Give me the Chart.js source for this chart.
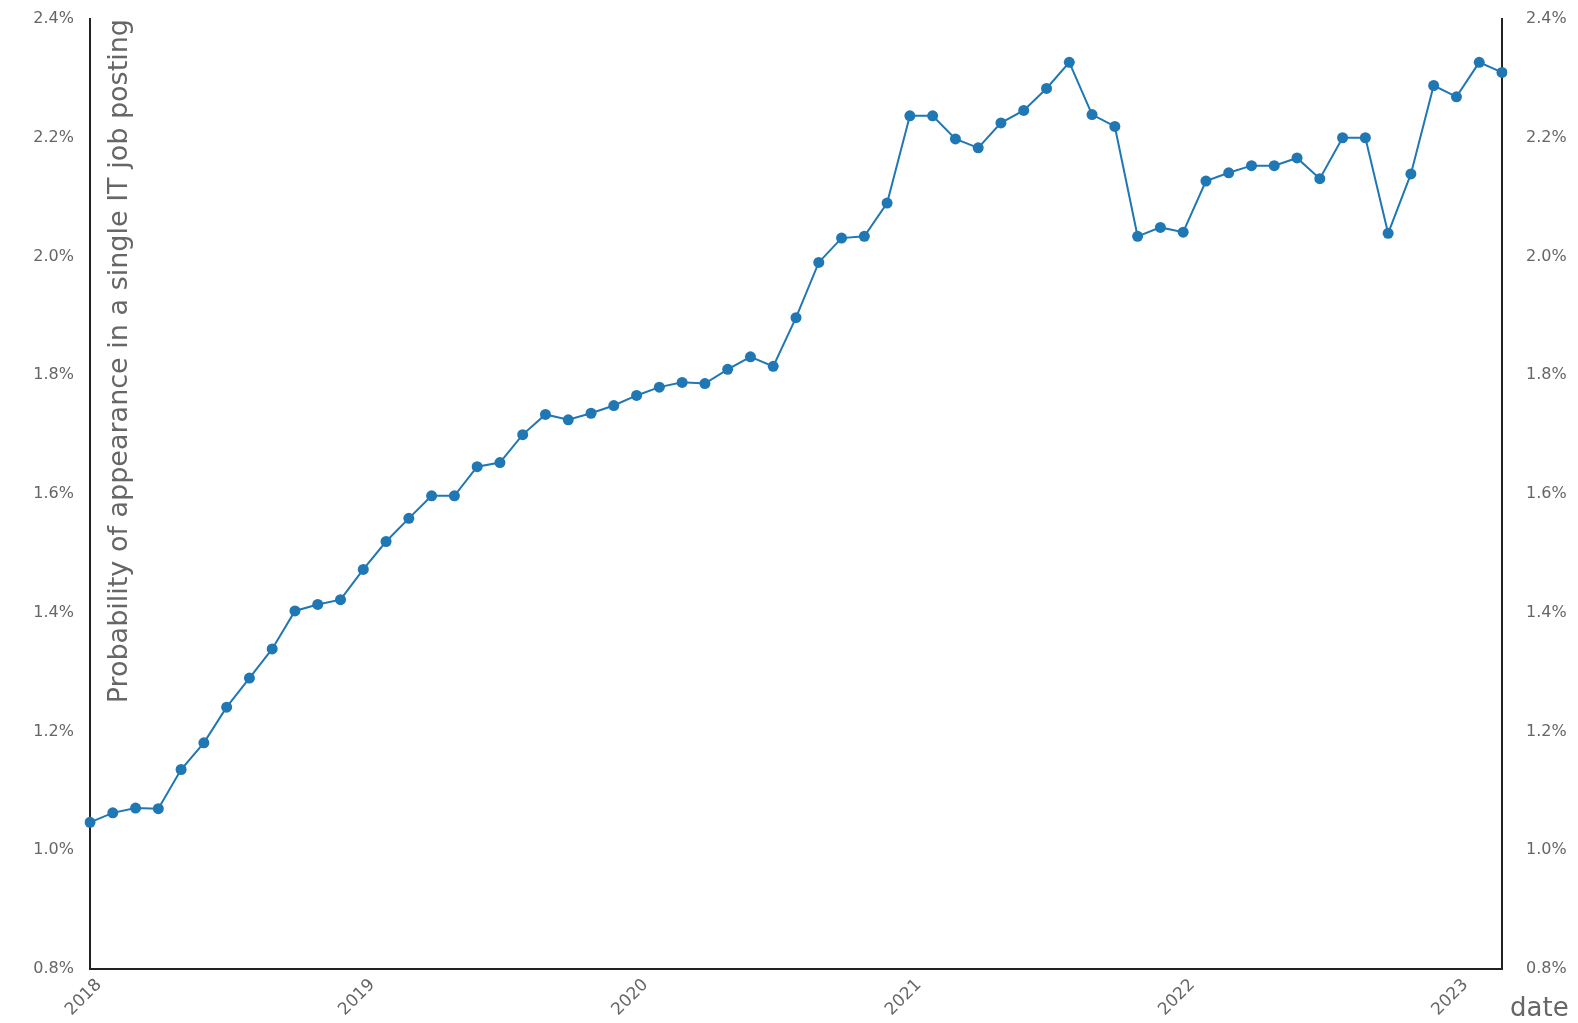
<!DOCTYPE html>
<html>
<head>
<meta charset="utf-8">
<script src="https://cdn.jsdelivr.net/npm/chart.js@4.4.1/dist/chart.umd.min.js"></script>
<style>
  html, body { margin: 0; padding: 0; background: #fff; }
  #wrap { width: 1578px; height: 1023px; position: relative; }
</style>
</head>
<body>
<div id="wrap"><canvas id="grafico"></canvas></div>
<script>
// meses de 2018-01 a 2023-03
const meses = [
  '2018-01','2018-02','2018-03','2018-04','2018-05','2018-06','2018-07','2018-08','2018-09','2018-10','2018-11','2018-12',
  '2019-01','2019-02','2019-03','2019-04','2019-05','2019-06','2019-07','2019-08','2019-09','2019-10','2019-11','2019-12',
  '2020-01','2020-02','2020-03','2020-04','2020-05','2020-06','2020-07','2020-08','2020-09','2020-10','2020-11','2020-12',
  '2021-01','2021-02','2021-03','2021-04','2021-05','2021-06','2021-07','2021-08','2021-09','2021-10','2021-11','2021-12',
  '2022-01','2022-02','2022-03','2022-04','2022-05','2022-06','2022-07','2022-08','2022-09','2022-10','2022-11','2022-12',
  '2023-01','2023-02','2023-03'
];

// probabilidade (%)
const probabilidade = [
  1.047, 1.063, 1.071, 1.070, 1.136, 1.181, 1.241, 1.290, 1.339, 1.403, 1.414, 1.422,
  1.473, 1.520, 1.559, 1.597, 1.597, 1.646, 1.653, 1.700, 1.734, 1.725, 1.736, 1.749,
  1.766, 1.780, 1.788, 1.786, 1.810, 1.831, 1.815, 1.897, 1.990, 2.031, 2.034, 2.090,
  2.237, 2.237, 2.198, 2.183, 2.225, 2.246, 2.283, 2.327, 2.239, 2.219, 2.034, 2.049,
  2.041, 2.127, 2.141, 2.153, 2.153, 2.166, 2.131, 2.200, 2.200, 2.039, 2.139, 2.288,
  2.269, 2.327, 2.310
];

const yMin = 0.8;
const yMax = 2.4;
const yPasso = 0.2;
const tituloY = 'Probability of appearance in a single IT job posting';
const tituloX = 'date';

const corLinha = '#1f77b4';
const corTexto = '#666666';
const corEixo = '#222222';
const fonte = '"DejaVu Sans", Verdana, sans-serif';

// titulos desenhados dentro/ao lado da area do grafico
const titulos = {
  id: 'titulos',
  afterDraw(chart) {
    const { ctx, chartArea } = chart;
    ctx.save();
    ctx.fillStyle = corTexto;
    ctx.font = '27px ' + fonte;
    ctx.translate(chartArea.left + 43, chartArea.top);
    ctx.rotate(-Math.PI / 2);
    ctx.textAlign = 'right';
    ctx.textBaseline = 'bottom';
    ctx.fillText(tituloY, 0, 0);
    ctx.restore();

    ctx.save();
    ctx.fillStyle = corTexto;
    ctx.font = '26px ' + fonte;
    ctx.textAlign = 'left';
    ctx.textBaseline = 'middle';
    ctx.fillText(tituloX, chartArea.right + 8, chartArea.bottom + 40);
    ctx.restore();
  }
};

const fmtPct = v => v.toFixed(1) + '%';
const eixoY = (posicao, largura) => ({
  position: posicao,
  min: yMin,
  max: yMax,
  border: { display: true, color: corEixo, width: 2 },
  grid: { display: false, drawTicks: true, tickLength: 10, tickColor: corEixo, tickWidth: 2 },
  ticks: {
    stepSize: yPasso,
    color: corTexto,
    font: { size: 16, family: fonte },
    padding: posicao === 'left' ? 6 : 14,
    callback: v => fmtPct(v)
  },
  afterFit: s => { s.width = largura; s.paddingTop = 0; s.paddingBottom = 0; }
});

new Chart(document.getElementById('grafico'), {
  type: 'line',
  data: {
    labels: meses,
    datasets: [{
      data: probabilidade,
      borderColor: corLinha,
      backgroundColor: corLinha,
      borderWidth: 2,
      pointRadius: 5.5,
      pointHoverRadius: 5.5,
      pointBorderWidth: 0,
      tension: 0,
      yAxisID: 'y'
    }]
  },
  options: {
    responsive: true,
    maintainAspectRatio: false,
    animation: false,
    layout: { padding: { top: 19 } },
    plugins: { legend: { display: false }, tooltip: { enabled: false } },
    scales: {
      x: {
        type: 'category',
        offset: false,
        border: { display: true, color: corEixo, width: 2 },
        grid: {
          display: false, drawTicks: true, tickLength: 6, tickWidth: 2,
          tickColor: ctx => (ctx.index % 12 === 0 ? corEixo : 'rgba(0,0,0,0)')
        },
        ticks: {
          autoSkip: false,
          maxRotation: 45,
          minRotation: 45,
          color: corTexto,
          font: { size: 17, family: fonte },
          padding: 0,
          labelOffset: 9,
          callback: function (v, i) {
            const m = meses[i];
            return m.endsWith('-01') ? m.slice(0, 4) : '';
          }
        },
        afterFit: s => { s.height = 54; }
      },
      y: eixoY('left', 90),
      y2: eixoY('right', 76)
    }
  },
  plugins: [titulos]
});
</script>
</body>
</html>
